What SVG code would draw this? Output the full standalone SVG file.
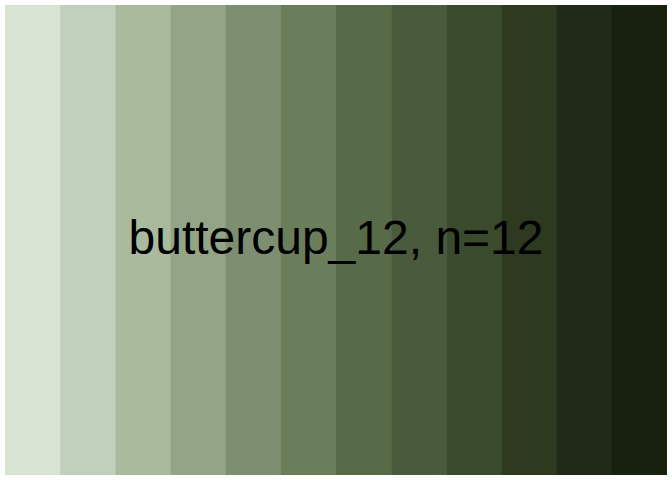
<svg xmlns="http://www.w3.org/2000/svg" width="672" height="480" viewBox="0 0 672 480">
<style>
.s{stroke:none}
.t{font-family:"Liberation Sans",Arial,sans-serif;font-size:48px;fill:#000;text-anchor:middle}
</style>
<rect width="672" height="480" fill="#fff"/>
<g id="stripes">
<rect class="s" x="5" y="5" width="55.6" height="470" fill="#D9E3D4"/>
<rect class="s" x="60.17" y="5" width="55.6" height="470" fill="#C1D0BA"/>
<rect class="s" x="115.33" y="5" width="55.6" height="470" fill="#A9BA9D"/>
<rect class="s" x="170.5" y="5" width="55.6" height="470" fill="#93A586"/>
<rect class="s" x="225.67" y="5" width="55.6" height="470" fill="#7D8F70"/>
<rect class="s" x="280.83" y="5" width="55.6" height="470" fill="#6A7E5C"/>
<rect class="s" x="336" y="5" width="55.6" height="470" fill="#586B48"/>
<rect class="s" x="391.17" y="5" width="55.6" height="470" fill="#4A5A3C"/>
<rect class="s" x="446.33" y="5" width="55.6" height="470" fill="#3A4A2C"/>
<rect class="s" x="501.5" y="5" width="55.6" height="470" fill="#2E3A20"/>
<rect class="s" x="556.67" y="5" width="55.6" height="470" fill="#212A16"/>
<rect class="s" x="611.83" y="5" width="55.17" height="470" fill="#18200E"/>
</g>
<text class="t" x="336" y="254">buttercup_12, n=12</text>
</svg>
